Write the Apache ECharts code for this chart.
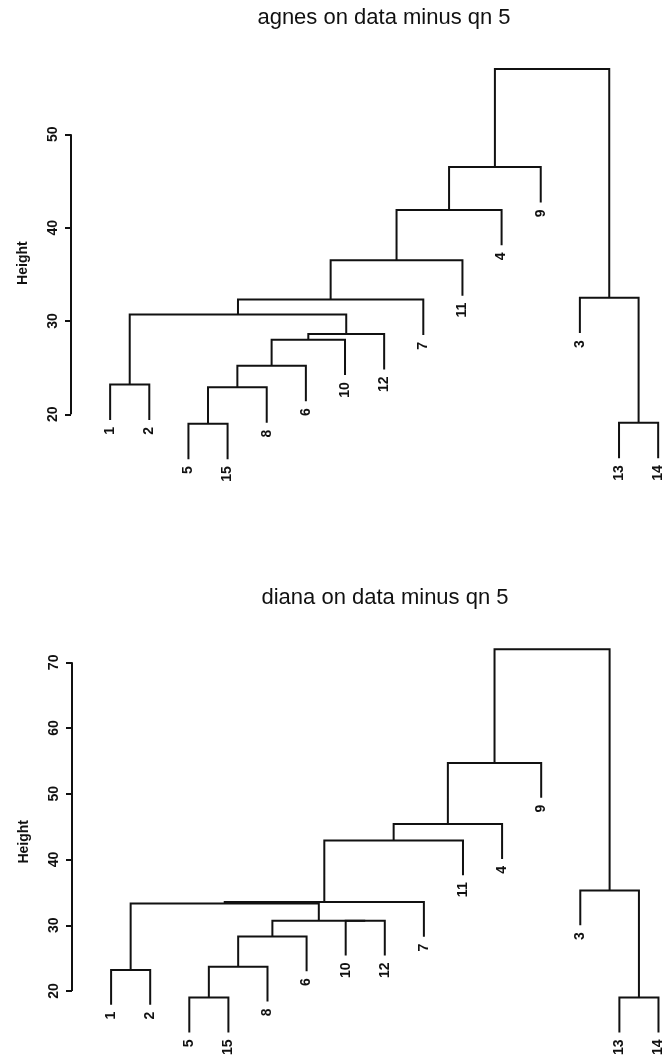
<!DOCTYPE html>
<html>
<head>
<meta charset="utf-8">
<script src="https://cdn.jsdelivr.net/npm/echarts@6/dist/echarts.min.js"></script>
<style>
  html, body { margin: 0; padding: 0; background: #ffffff; }
  #chart { width: 670px; height: 1062px; }
</style>
</head>
<body>
<div id="chart"></div>
<script>
// Observation numbers in the order they appear along the bottom
const agnesOrder = [1, 2, 5, 15, 8, 6, 10, 12, 7, 11, 4, 9, 3, 13, 14];
// Merge steps: a negative entry is a single observation, a positive one an earlier step (1-based)
const agnesLeft   = [-5, -13, 1, -1, 3, 5, 6, 4, 8, -3, 9, 11, 12, 13];
const agnesRight  = [-15, -14, -8, -2, -6, -10, -12, 7, -7, 2, -11, -4, -9, 10];
const agnesHeight = [19.0, 19.1, 22.9, 23.2, 25.2, 28.0, 28.6, 30.7, 32.3, 32.5, 36.5, 41.9, 46.5, 57.0];
const agnesTicks  = [20, 30, 40, 50];
const agnesTitle  = 'agnes on data minus qn 5';

const dianaOrder  = [1, 2, 5, 15, 8, 6, 10, 12, 7, 11, 4, 9, 3, 13, 14];
const dianaLeft   = [-5, -13, -1, 1, 4, -10, 5, 3, 8, -3, 9, 11, 12, 13];
const dianaRight  = [-15, -14, -2, -8, -6, -12, 6, 7, -7, 2, -11, -4, -9, 10];
const dianaHeight = [19.0, 19.0, 23.2, 23.7, 28.3, 30.7, 30.7, 33.3, 33.55, 35.3, 42.9, 45.4, 54.7, 72.0];
const dianaTicks  = [20, 30, 40, 50, 60, 70];
const dianaTitle  = 'diana on data minus qn 5';

const yLabel = 'Height';

const INK = '#111111';
const FONT = "'Liberation Sans', Arial, Helvetica, sans-serif";

// Turn a merge table into drawable links (left x, left bottom, right x, right bottom, join height)
// and leaf label anchors; leaves hang down by a tenth of the height range.
function buildTree(order, left, right, height) {
  const pos = {};
  order.forEach((id, i) => { pos[id] = i + 1; });
  const hang = 0.1 * (Math.max.apply(null, height) - Math.min.apply(null, height));
  const nodeX = [];
  const links = [];
  const leaves = [];
  function child(ref, h) {
    if (ref < 0) {
      const id = -ref;
      const x = pos[id];
      const bottom = h - hang;
      leaves.push([x, bottom, String(id)]);
      return [x, bottom];
    }
    return [nodeX[ref - 1], height[ref - 1]];
  }
  for (let k = 0; k < height.length; k++) {
    const h = height[k];
    const a = child(left[k], h);
    const b = child(right[k], h);
    nodeX[k] = (a[0] + b[0]) / 2;
    links.push([a[0], a[1], b[0], b[1], h]);
  }
  return { links: links, leaves: leaves };
}

const agnesTree = buildTree(agnesOrder, agnesLeft, agnesRight, agnesHeight);
const dianaTree = buildTree(dianaOrder, dianaLeft, dianaRight, dianaHeight);

function linkSeries(idx, tree) {
  return {
    type: 'custom',
    xAxisIndex: idx, yAxisIndex: idx,
    clip: false, silent: true,
    data: tree.links,
    encode: { x: [0, 2], y: [1, 3, 4] },
    renderItem: function (params, api) {
      const p1 = api.coord([api.value(0), api.value(1)]);
      const p2 = api.coord([api.value(0), api.value(4)]);
      const p3 = api.coord([api.value(2), api.value(4)]);
      const p4 = api.coord([api.value(2), api.value(3)]);
      return {
        type: 'polyline',
        shape: { points: [p1, p2, p3, p4] },
        style: { stroke: INK, lineWidth: 2, fill: null, lineJoin: 'miter' }
      };
    }
  };
}

function leafSeries(idx, tree) {
  return {
    type: 'custom',
    xAxisIndex: idx, yAxisIndex: idx,
    clip: false, silent: true,
    data: tree.leaves,
    encode: { x: 0, y: 1 },
    renderItem: function (params, api) {
      const p = api.coord([api.value(0), api.value(1)]);
      return {
        type: 'text',
        x: p[0], y: p[1] + 7,
        rotation: Math.PI / 2,
        style: {
          text: tree.leaves[params.dataIndex][2],
          textAlign: 'right', textVerticalAlign: 'middle',
          font: 'bold 14px ' + FONT, fill: INK
        }
      };
    }
  };
}

// Vertical axis line spanning only the labelled ticks
function axisSeries(idx, ticks) {
  return {
    type: 'custom',
    xAxisIndex: idx, yAxisIndex: idx,
    clip: false, silent: true,
    data: [[0, ticks[0], ticks[ticks.length - 1]]],
    encode: { x: 0, y: [1, 2] },
    renderItem: function (params, api) {
      const a = api.coord([api.value(0), api.value(1)]);
      const b = api.coord([api.value(0), api.value(2)]);
      return {
        type: 'line',
        shape: { x1: a[0], y1: a[1], x2: b[0], y2: b[1] },
        style: { stroke: INK, lineWidth: 2 }
      };
    }
  };
}

function xAxis(idx) {
  return { gridIndex: idx, type: 'value', min: 0, max: 15.2, show: false };
}

function yAxis(idx, ticks, min, max) {
  return {
    gridIndex: idx, type: 'value', min: min, max: max,
    axisLine: { show: false },
    splitLine: { show: false },
    axisTick: { show: true, customValues: ticks, length: 6, lineStyle: { color: INK, width: 2 } },
    axisLabel: {
      customValues: ticks, rotate: 90, margin: 11,
      fontSize: 14, fontWeight: 'bold', fontFamily: FONT, color: INK
    },
    name: yLabel, nameLocation: 'middle', nameRotate: 90, nameGap: 41,
    nameTextStyle: { fontSize: 14, fontWeight: 'bold', fontFamily: FONT, color: INK }
  };
}

const chart = echarts.init(document.getElementById('chart'), null, { renderer: 'canvas' });

chart.setOption({
  backgroundColor: '#ffffff',
  animation: false,
  graphic: [
    { type: 'text', x: 384, y: 7, style: { text: agnesTitle, textAlign: 'center', font: '22px ' + FONT, fill: INK } },
    { type: 'text', x: 385, y: 587, style: { text: dianaTitle, textAlign: 'center', font: '22px ' + FONT, fill: INK } }
  ],
  grid: [
    { left: 71, width: 595, top: 37.2, height: 451.8 },
    { left: 72, width: 594.3, top: 622.9, height: 437.8 }
  ],
  xAxis: [xAxis(0), xAxis(1)],
  yAxis: [yAxis(0, agnesTicks, 12, 60.4), yAxis(1, dianaTicks, 9.4, 76)],
  series: [
    axisSeries(0, agnesTicks), linkSeries(0, agnesTree), leafSeries(0, agnesTree),
    axisSeries(1, dianaTicks), linkSeries(1, dianaTree), leafSeries(1, dianaTree)
  ]
});
</script>
</body>
</html>
